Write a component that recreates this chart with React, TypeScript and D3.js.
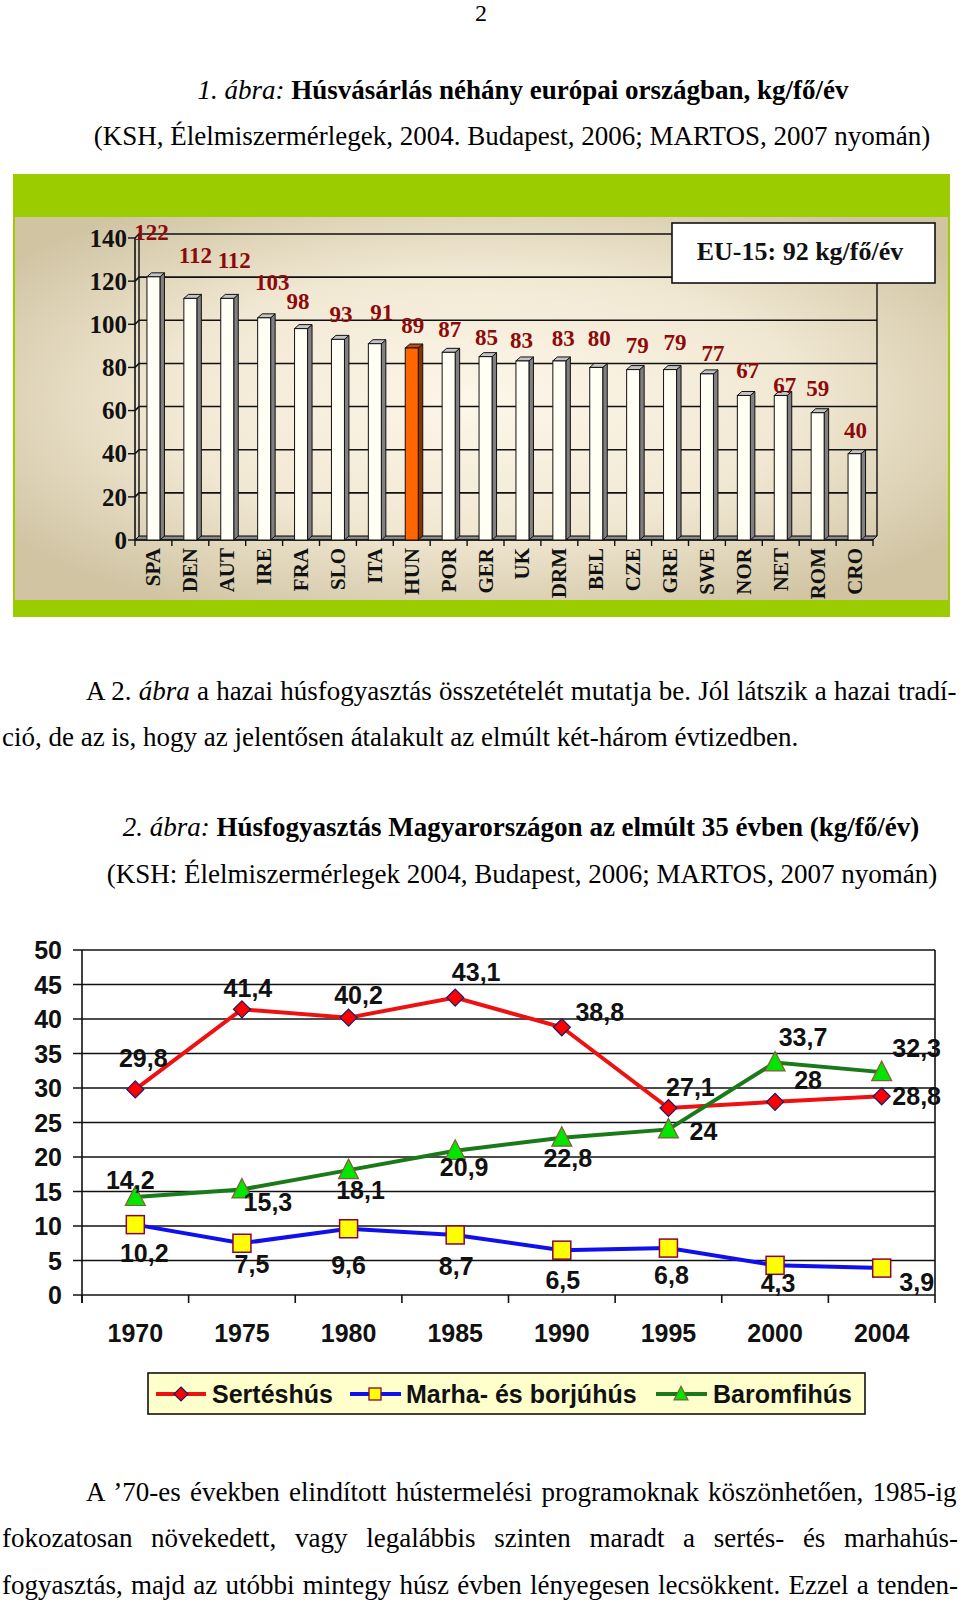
import React from "react";
import * as d3 from "d3";

// ---------- Data: figure 1 ----------
const countries = ["SPA", "DEN", "AUT", "IRE", "FRA", "SLO", "ITA", "HUN", "POR", "GER", "UK", "DRM", "BEL", "CZE", "GRE", "SWE", "NOR", "NET", "ROM", "CRO"];
const meatPurchase = [122, 112, 112, 103, 98, 93, 91, 89, 87, 85, 83, 83, 80, 79, 79, 77, 67, 67, 59, 40];
const highlighted = "HUN";
const yTicks1 = [0, 20, 40, 60, 80, 100, 120, 140];
const eu15Text = "EU-15: 92 kg/fő/év";
// label nudges (dx, dy from bar top) imitating the original placement
const purchaseLabelNudge: [number, number][] = [
  [-2, -45], [5, -43], [7, -38], [8, -36], [-3, -28], [3, -25], [7, -32], [1, -23], [1, -23], [1, -20],
  [-1, -21], [4, -23], [3, -29], [4, -25], [5, -28], [6, -21], [4, -26], [4, -11], [0, -25], [1, -24],
];

// ---------- Data: figure 2 ----------
const years = ["1970", "1975", "1980", "1985", "1990", "1995", "2000", "2004"];
const pork = [29.8, 41.4, 40.2, 43.1, 38.8, 27.1, 28, 28.8];
const beef = [10.2, 7.5, 9.6, 8.7, 6.5, 6.8, 4.3, 3.9];
const poultry = [14.2, 15.3, 18.1, 20.9, 22.8, 24, 33.7, 32.3];
const seriesNames = ["Sertéshús", "Marha- és borjúhús", "Baromfihús"];
const yTicks2 = [0, 5, 10, 15, 20, 25, 30, 35, 40, 45, 50];
const porkLabelNudge: [number, number][] = [[8, -31], [6, -21], [10, -23], [21, -26], [38, -15], [22, -21], [33, -22], [35, 0]];
const beefLabelNudge: [number, number][] = [[9, 28], [10, 21], [0, 36], [1, 31], [1, 30], [3, 27], [3, 18], [35, 14]];
const poultryLabelNudge: [number, number][] = [[-5, -17], [26, 13], [12, 20], [9, 16], [6, 20], [35, 2], [28, -25], [35, -24]];

// ---------- Texts ----------
type Seg = { t: string; i?: boolean; b?: boolean };
const pageNumber = "2";
const title1: Seg[] = [{ t: "1. ábra:", i: true }, { t: " Húsvásárlás néhány európai országban, kg/fő/év", b: true }];
const source1 = "(KSH, Élelmiszermérlegek, 2004. Budapest, 2006; MARTOS, 2007 nyomán)";
const para1: Seg[][] = [
  [{ t: "A 2. " }, { t: "ábra", i: true }, { t: " a hazai húsfogyasztás összetételét mutatja be. Jól látszik a hazai tradí-" }],
  [{ t: "ció, de az is, hogy az jelentősen átalakult az elmúlt két-három évtizedben." }],
];
const title2: Seg[] = [{ t: "2. ábra:", i: true }, { t: " Húsfogyasztás Magyarországon az elmúlt 35 évben (kg/fő/év)", b: true }];
const source2 = "(KSH: Élelmiszermérlegek 2004, Budapest, 2006; MARTOS, 2007 nyomán)";
const para2: Seg[][] = [
  [{ t: "A ’70-es években elindított hústermelési programoknak köszönhetően, 1985-ig" }],
  [{ t: "fokozatosan növekedett, vagy legalábbis szinten maradt a sertés- és marhahús-" }],
  [{ t: "fogyasztás, majd az utóbbi mintegy húsz évben lényegesen lecsökkent. Ezzel a tenden-" }],
];

const SERIF = "'Liberation Serif', 'Times New Roman', Times, serif";
const SANS = "'Liberation Sans', Arial, Helvetica, sans-serif";
const BODY = 27;

let ctx: CanvasRenderingContext2D | null = null;
function measure(text: string, font: string) {
  if (!ctx) ctx = document.createElement("canvas").getContext("2d");
  if (!ctx) return text.length * 11;
  ctx.font = font;
  return ctx.measureText(text).width;
}
const segFont = (s: Seg, size: number) => `${s.i ? "italic " : ""}${s.b ? "bold " : ""}${size}px ${SERIF}`;

function Segs({ segs }: { segs: Seg[] }) {
  return (
    <>
      {segs.map((s, k) => (
        <tspan key={k} fontStyle={s.i ? "italic" : "normal"} fontWeight={s.b ? "bold" : "normal"}>
          {s.t}
        </tspan>
      ))}
    </>
  );
}

function Line({ segs, x0, x1, y, justify }: { segs: Seg[]; x0: number; x1?: number; y: number; justify?: boolean }) {
  let ws = 0;
  if (justify && x1 !== undefined) {
    const natural = segs.reduce((a, s) => a + measure(s.t, segFont(s, BODY)), 0);
    const spaces = segs.reduce((a, s) => a + (s.t.match(/ /g) || []).length, 0);
    ws = spaces > 0 ? (x1 - x0 - natural) / spaces : 0;
  }
  return (
    <text x={x0} y={y} fontFamily={SERIF} fontSize={BODY} fill="#000" style={{ wordSpacing: `${ws}px`, whiteSpace: "pre" }}>
      <Segs segs={segs} />
    </text>
  );
}

const fmt = (v: number) => String(v).replace(".", ",");

function Figure1() {
  const X0 = 135, X1 = 873, D = 4;
  const x = d3.scaleBand<string>().domain(countries).range([X0, X1]);
  const y = d3.scaleLinear().domain([0, 140]).range([540, 238]);
  const bw = x.bandwidth();
  const fw = 13, bd = 4.5;
  const top = y(140);
  return (
    <g>
      <defs>
        <radialGradient id="bg1" cx="50%" cy="48%" r="62%">
          <stop offset="0%" stopColor="#fdf7ea" />
          <stop offset="55%" stopColor="#f1e8d3" />
          <stop offset="100%" stopColor="#d0c4a3" />
        </radialGradient>
      </defs>
      <rect x={13} y={174} width={937} height={443} fill="#9acc00" />
      <rect x={15} y={217} width={933} height={383} fill="url(#bg1)" />
      {/* floor */}
      <polygon points={`${X0},${y(0)} ${X1},${y(0)} ${X1 + D},${y(0) - D} ${X0 + D},${y(0) - D}`} fill="#8a8a8a" stroke="#000" strokeWidth={1} />
      {/* gridlines on back wall */}
      {yTicks1.filter((t) => t > 0).map((t) => (
        <polyline key={t} points={`${X0},${y(t)} ${X0 + D},${y(t) - D} ${X1 + D},${y(t) - D}`} fill="none" stroke="#111" strokeWidth={1.6} />
      ))}
      <line x1={X0 + D} y1={top - D} x2={X0 + D} y2={y(0) - D} stroke="#111" strokeWidth={1.4} />
      <line x1={X1 + D} y1={top - D} x2={X1 + D} y2={y(0) - D} stroke="#111" strokeWidth={1.4} />
      <line x1={X0} y1={top} x2={X0} y2={y(0)} stroke="#111" strokeWidth={1.6} />
      {/* axis ticks */}
      {yTicks1.map((t) => (
        <g key={t}>
          <line x1={X0 - 7} y1={y(t)} x2={X0} y2={y(t)} stroke="#111" strokeWidth={1.4} />
          <text x={127} y={y(t)} dy="0.35em" textAnchor="end" fontFamily={SERIF} fontWeight="bold" fontSize={25} fill="#111">{t}</text>
        </g>
      ))}
      <line x1={X0} y1={y(0)} x2={X1} y2={y(0)} stroke="#111" strokeWidth={1.4} />
      {countries.map((c) => (
        <line key={c} x1={x(c)!} y1={y(0)} x2={x(c)!} y2={y(0) + 6} stroke="#111" strokeWidth={1.4} />
      ))}
      <line x1={X1} y1={y(0)} x2={X1} y2={y(0) + 6} stroke="#111" strokeWidth={1.4} />
      {/* bars */}
      {countries.map((c, i) => {
        const cx = x(c)! + bw / 2;
        const xl = cx - fw / 2, xr = cx + fw / 2;
        const yt = y(meatPurchase[i]);
        const hi = c === highlighted;
        return (
          <g key={c} stroke="#111" strokeWidth={1}>
            <polygon points={`${xr},${yt} ${xr + bd},${yt - 4} ${xr + bd},${y(0) - 4} ${xr},${y(0)}`} fill={hi ? "#8a3300" : "#808080"} />
            <polygon points={`${xl},${yt} ${xl + bd},${yt - 4} ${xr + bd},${yt - 4} ${xr},${yt}`} fill={hi ? "#c84c00" : "#c4c4c4"} />
            <rect x={xl} y={yt} width={fw} height={y(0) - yt} fill={hi ? "#ff6600" : "#fffff6"} />
          </g>
        );
      })}
      {/* value labels */}
      {countries.map((c, i) => {
        const cx = x(c)! + bw / 2;
        const [dx, dy] = purchaseLabelNudge[i];
        return (
          <text key={c} x={cx + dx} y={y(meatPurchase[i]) + dy} dy="0.35em" textAnchor="middle" fontFamily={SERIF} fontWeight="bold" fontSize={23} fill="#8b0a0a">
            {meatPurchase[i]}
          </text>
        );
      })}
      {/* category labels */}
      {countries.map((c) => {
        const cx = x(c)! + bw / 2 + 7;
        return (
          <text key={c} transform={`translate(${cx},548) rotate(-90)`} textAnchor="end" fontFamily={SERIF} fontWeight="bold" fontSize={21} fill="#111">
            {c}
          </text>
        );
      })}
      {/* EU-15 box */}
      <rect x={672} y={223} width={263} height={60} fill="#fff" stroke="#111" strokeWidth={1.6} />
      <text x={800} y={251} dy="0.35em" textAnchor="middle" fontFamily={SERIF} fontWeight="bold" fontSize={26} fill="#111">{eu15Text}</text>
    </g>
  );
}

function Figure2() {
  const L = 82, R = 935;
  const x = d3.scaleBand<string>().domain(years).range([L, R]);
  const y = d3.scaleLinear().domain([0, 50]).range([1295, 950]);
  const cx = (i: number) => x(years[i])! + x.bandwidth() / 2;
  const line = d3.line<number>().x((_, i) => cx(i)).y((v) => y(v));
  const labelStyle = { fontFamily: SANS, fontWeight: "bold" as const, fontSize: 25, fill: "#111" };
  const labels = (vals: number[], nudge: [number, number][], key: string) =>
    vals.map((v, i) => (
      <text key={key + i} x={cx(i) + nudge[i][0]} y={y(v) + nudge[i][1]} dy="0.36em" textAnchor="middle" {...labelStyle}>
        {fmt(v)}
      </text>
    ));
  const diamond = (px: number, py: number, s: number) => `M${px},${py - s}L${px + s},${py}L${px},${py + s}L${px - s},${py}Z`;
  const tri = (px: number, py: number, s: number) => `M${px},${py - s * 1.1}L${px + s},${py + s * 0.85}L${px - s},${py + s * 0.85}Z`;
  const legendY = 1394;
  return (
    <g>
      {yTicks2.map((t) => (
        <g key={t}>
          <line x1={L - 9} y1={y(t)} x2={R} y2={y(t)} stroke="#111" strokeWidth={1.6} />
          <text x={62} y={y(t)} dy="0.36em" textAnchor="end" {...labelStyle}>{t}</text>
        </g>
      ))}
      <line x1={L} y1={y(50)} x2={L} y2={y(0) + 8} stroke="#111" strokeWidth={1.6} />
      <line x1={R} y1={y(50)} x2={R} y2={y(0) + 8} stroke="#111" strokeWidth={1.6} />
      {years.map((yr) => (
        <line key={yr} x1={x(yr)!} y1={y(0)} x2={x(yr)!} y2={y(0) + 8} stroke="#111" strokeWidth={1.6} />
      ))}
      {years.map((yr, i) => (
        <text key={yr} x={cx(i)} y={1333} dy="0.36em" textAnchor="middle" {...labelStyle}>{yr}</text>
      ))}
      <path d={line(pork) || ""} fill="none" stroke="#ee1111" strokeWidth={4} />
      {pork.map((v, i) => <path key={i} d={diamond(cx(i), y(v), 8.5)} fill="#ff0000" stroke="#1a1a6e" strokeWidth={1.2} />)}
      <path d={line(beef) || ""} fill="none" stroke="#1010ee" strokeWidth={4} />
      {beef.map((v, i) => <rect key={i} x={cx(i) - 9} y={y(v) - 9} width={18} height={18} fill="#ffff00" stroke="#8a0040" strokeWidth={1.5} />)}
      <path d={line(poultry) || ""} fill="none" stroke="#1a7a1a" strokeWidth={4} />
      {poultry.map((v, i) => <path key={i} d={tri(cx(i), y(v), 10)} fill="#00e600" stroke="#8a5a3a" strokeWidth={1.2} />)}
      {labels(pork, porkLabelNudge, "p")}
      {labels(beef, beefLabelNudge, "b")}
      {labels(poultry, poultryLabelNudge, "c")}
      {/* legend */}
      <rect x={148} y={1373} width={717} height={41} fill="#ffffcc" stroke="#111" strokeWidth={1.6} />
      <line x1={156} y1={legendY} x2={206} y2={legendY} stroke="#ee1111" strokeWidth={4} />
      <path d={diamond(181, legendY, 7)} fill="#ff0000" stroke="#1a1a6e" strokeWidth={1.2} />
      <text x={212} y={legendY} dy="0.36em" {...labelStyle}>{seriesNames[0]}</text>
      <line x1={350} y1={legendY} x2={401} y2={legendY} stroke="#1010ee" strokeWidth={4} />
      <rect x={369} y={legendY - 6} width={12} height={12} fill="#ffff00" stroke="#8a0040" strokeWidth={1.3} />
      <text x={406} y={legendY} dy="0.36em" {...labelStyle}>{seriesNames[1]}</text>
      <line x1={656} y1={legendY} x2={707} y2={legendY} stroke="#1a7a1a" strokeWidth={4} />
      <path d={tri(681, legendY, 7)} fill="#00e600" stroke="#8a5a3a" strokeWidth={1.2} />
      <text x={713} y={legendY} dy="0.36em" {...labelStyle}>{seriesNames[2]}</text>
    </g>
  );
}

export default function App() {
  return (
    <svg width={960} height={1600} viewBox="0 0 960 1600" style={{ position: "absolute", left: 0, top: 0, background: "#fff" }}>
      <rect width={960} height={1600} fill="#fff" />
      <text x={481} y={21} textAnchor="middle" fontFamily={SERIF} fontSize={24}>{pageNumber}</text>
      <text x={523} y={99} textAnchor="middle" fontFamily={SERIF} fontSize={BODY}><Segs segs={title1} /></text>
      <text x={512} y={145} textAnchor="middle" fontFamily={SERIF} fontSize={BODY}>{source1}</text>
      <Figure1 />
      <Line segs={para1[0]} x0={86} x1={958} y={700} justify />
      <Line segs={para1[1]} x0={2} y={746} />
      <text x={521} y={836} textAnchor="middle" fontFamily={SERIF} fontSize={BODY}><Segs segs={title2} /></text>
      <text x={522} y={883} textAnchor="middle" fontFamily={SERIF} fontSize={BODY}>{source2}</text>
      <Figure2 />
      <Line segs={para2[0]} x0={86} x1={958} y={1501} justify />
      <Line segs={para2[1]} x0={2} x1={958} y={1547} justify />
      <Line segs={para2[2]} x0={2} x1={958} y={1594} justify />
    </svg>
  );
}
